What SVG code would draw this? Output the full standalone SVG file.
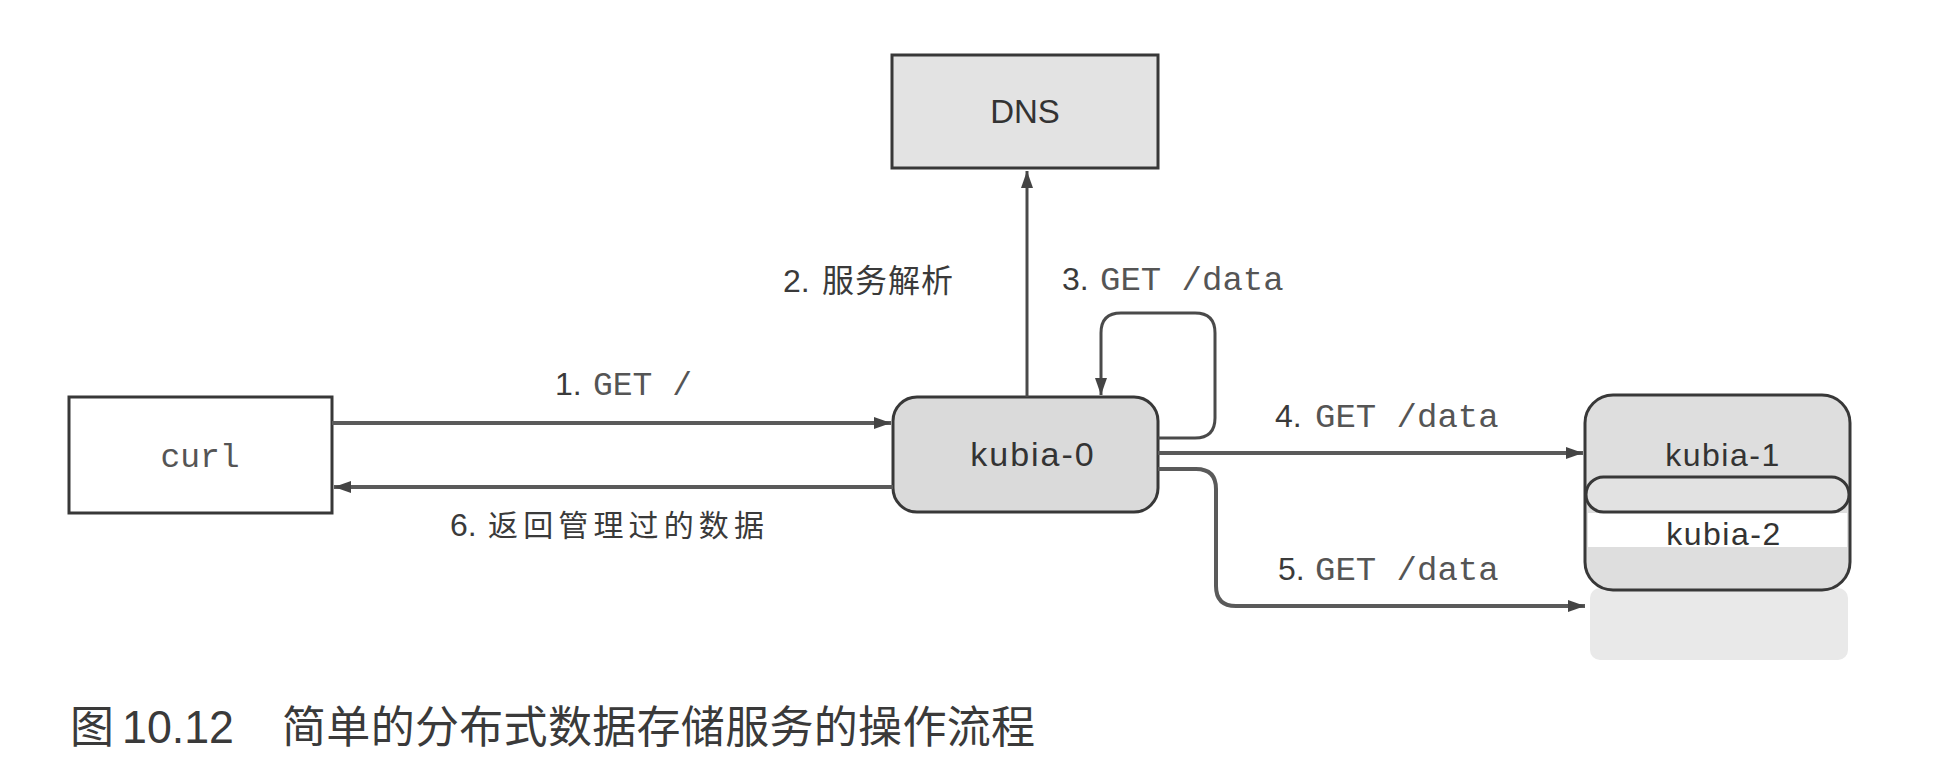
<svg xmlns="http://www.w3.org/2000/svg" width="1934" height="760" viewBox="0 0 1934 760">
<style>
  .box { stroke: #383838; stroke-width: 3; }
  .conn { fill: none; stroke: #4a4a4a; stroke-width: 3; }
  .thick { stroke: #5a5a5a; stroke-width: 4; }
  .sans { font-family: "Liberation Sans", Arial, sans-serif; fill: #3a3a3a; }
  .mono { font-family: "Liberation Mono", "Courier New", monospace; fill: #555555; }
  .cjk { font-family: "Liberation Sans", "Noto Sans CJK SC", sans-serif; fill: #3a3a3a; }
  .node-label { font-family: "Liberation Sans", Arial, sans-serif; fill: #333333; text-anchor: middle; }
</style>
<defs>
  <marker id="arrow" markerUnits="userSpaceOnUse" markerWidth="18" markerHeight="12" refX="17" refY="6" orient="auto">
    <path d="M0,0 L17,6 L0,12 z" fill="#444444"/>
  </marker>
</defs>
<rect x="0" y="0" width="1934" height="760" fill="#ffffff"/>

<g id="node-dns">
  <rect class="box" x="892" y="55" width="266" height="113" fill="#e3e3e3"/>
  <text class="node-label" x="1025" y="123" font-size="33">DNS</text>
</g>

<g id="node-curl">
  <rect class="box" x="69" y="397" width="263" height="116" fill="#ffffff"/>
  <text class="mono" x="200" y="467" font-size="33" text-anchor="middle" fill="#444444">curl</text>
</g>

<g id="node-kubia-0">
  <rect class="box" x="893" y="397" width="265" height="115" rx="24" ry="24" fill="#dadada"/>
  <text class="node-label" x="1033" y="466" font-size="34" letter-spacing="2">kubia-0</text>
</g>

<g id="node-kubia-stack">
  <rect x="1590" y="588" width="258" height="72" rx="10" fill="#e9e9e9"/>
  <rect class="box" x="1585" y="395" width="265" height="195" rx="28" ry="28" fill="#dedede"/>
  <rect x="1588" y="513" width="259" height="34" fill="#ffffff"/>
  <rect class="box" x="1586" y="477" width="263" height="35" rx="17.5" ry="17.5" fill="#e2e2e2"/>
  <text class="node-label" x="1723" y="466" font-size="32" letter-spacing="1.5">kubia-1</text>
  <text class="node-label" x="1724" y="545" font-size="32" letter-spacing="1.5">kubia-2</text>
</g>

<g id="connectors">
  <path class="conn thick" d="M332,423 H891" marker-end="url(#arrow)"/>
  <path class="conn thick" d="M893,487 H334" marker-end="url(#arrow)"/>
  <path class="conn" d="M1027,397 V171" marker-end="url(#arrow)"/>
  <path class="conn" d="M1158,438 H1195 Q1215,438 1215,418 V333 Q1215,313 1195,313 H1121 Q1101,313 1101,333 V395" marker-end="url(#arrow)"/>
  <path class="conn thick" d="M1158,453 H1583" marker-end="url(#arrow)"/>
  <path class="conn thick" d="M1158,469 H1196 Q1216,469 1216,489 V586 Q1216,606 1236,606 H1585" marker-end="url(#arrow)"/>
</g>

<g id="labels">
  <text y="395" font-size="33"><tspan class="sans" x="555" font-size="32">1.</tspan><tspan class="mono" x="593">GET /</tspan></text>
  <text y="292"><tspan class="sans" x="783" font-size="32">2.</tspan><tspan class="cjk" x="822" font-size="32" textLength="131" lengthAdjust="spacing">服务解析</tspan></text>
  <text y="290"><tspan class="sans" x="1062" font-size="32">3.</tspan><tspan class="mono" x="1100" font-size="34">GET /data</tspan></text>
  <text y="427"><tspan class="sans" x="1275" font-size="32">4.</tspan><tspan class="mono" x="1315" font-size="34">GET /data</tspan></text>
  <text y="580"><tspan class="sans" x="1278" font-size="32">5.</tspan><tspan class="mono" x="1315" font-size="34">GET /data</tspan></text>
  <text y="536"><tspan class="sans" x="450" font-size="32">6.</tspan><tspan class="cjk" x="488" font-size="30" textLength="276" lengthAdjust="spacing">返回管理过的数据</tspan></text>
</g>

<g id="caption" fill="#2e2e2e">
  <text class="cjk" x="70" y="743" font-size="44" fill="#2e2e2e">图</text>
  <text class="sans" x="122" y="743" font-size="46" textLength="112" lengthAdjust="spacingAndGlyphs" fill="#2e2e2e">10.12</text>
  <text class="cjk" x="282" y="743" font-size="44" textLength="753" lengthAdjust="spacing" fill="#2e2e2e">简单的分布式数据存储服务的操作流程</text>
</g>
</svg>
